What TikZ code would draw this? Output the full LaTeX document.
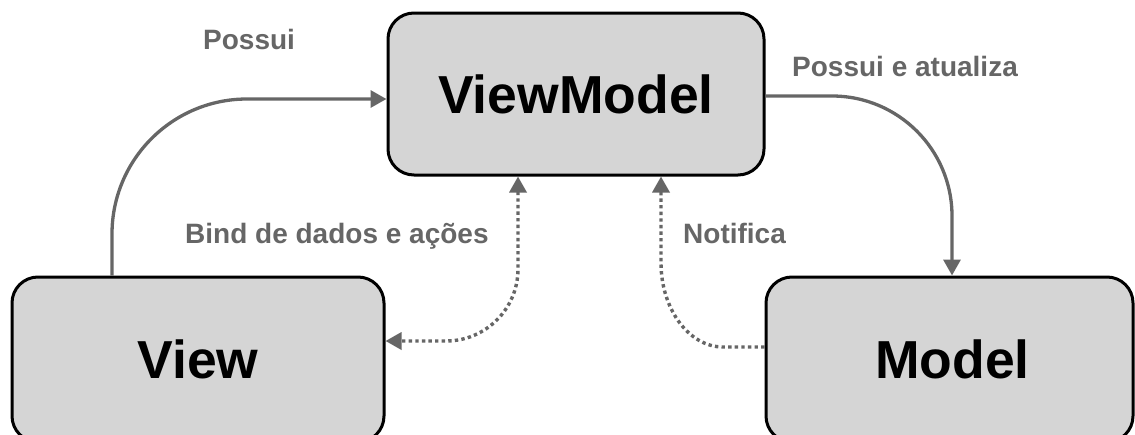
\documentclass[tikz,border=0pt]{standalone}
\usepackage{fontspec}
\setmainfont{Liberation Sans}
\usetikzlibrary{arrows.meta,calc}
\definecolor{boxfill}{HTML}{D5D5D5}
\definecolor{linkgray}{HTML}{666666}
\tikzset{
  block/.style={draw=black, line width=3pt, fill=boxfill, rounded corners=26pt,
    inner sep=0pt, font=\fontsize{53.5}{60}\selectfont\bfseries},
  caption/.style={anchor=base west, inner sep=0pt, text=linkgray,
    font=\fontsize{28}{32}\selectfont\bfseries},
  link/.style={draw=linkgray, line width=3.3pt},
  dotlink/.style={draw=linkgray, line width=3.4pt, dash pattern=on 3.4pt off 3.2pt},
  headend/.style={-{Triangle[length=16pt,width=17pt]}},
  headboth/.style={{Triangle[length=16pt,width=17pt]}-{Triangle[length=16pt,width=17pt]}},
}
\begin{document}
\begin{tikzpicture}[x=1pt, y=-1pt]
  \useasboundingbox (0,0) rectangle (1135,434);

  % components
  \node[block, minimum width=376pt, minimum height=162pt] (vm) at (576,94) {ViewModel};
  \node[block, minimum width=372pt, minimum height=165pt] (view) at (198,359.5) {View};
  \node[block, minimum width=367pt, minimum height=165pt] (model) at (949.5,359.5) {\hspace*{6pt}Model};

  % captions
  \node[caption] (cposs) at (203,49) {Possui};
  \node[caption] (cupd) at (792,76) {Possui e atualiza};
  \node[caption] (cbind) at (185,243) {Bind de dados e ações};
  \node[caption] (cnot) at (683,243) {Notifica};

  % View owns the ViewModel
  \coordinate (a1) at ([xshift=-86pt]view.north);
  \coordinate (a2) at ([yshift=-5pt]vm.west);
  \draw[link, headend, rounded corners=135pt] (a1) |- (a2);

  % ViewModel owns and updates the Model
  \coordinate (b1) at ([yshift=-2pt]vm.east);
  \coordinate (b2) at ([xshift=2.5pt]model.north);
  \draw[link, headend, rounded corners=120pt] (b1) -| (b2);

  % data and action binding
  \coordinate (c1) at ([xshift=-58pt]vm.south);
  \coordinate (c2) at ([yshift=18.5pt]view.east);
  \draw[dotlink, headboth, rounded corners=72pt] (c1) |- (c2);

  % Model notifies the ViewModel
  \coordinate (d1) at ([yshift=12.5pt]model.west);
  \coordinate (d2) at ([xshift=85pt]vm.south);
  \coordinate (dk) at (d2 |- d1);
  \draw[dotlink, headend] (d1) -- ($(dk)+(62,0)$)
     .. controls ($(dk)+(28,0)$) and ($(dk)+(0,-38)$) .. ($(dk)+(0,-84)$)
     -- (d2);
\end{tikzpicture}
\end{document}
